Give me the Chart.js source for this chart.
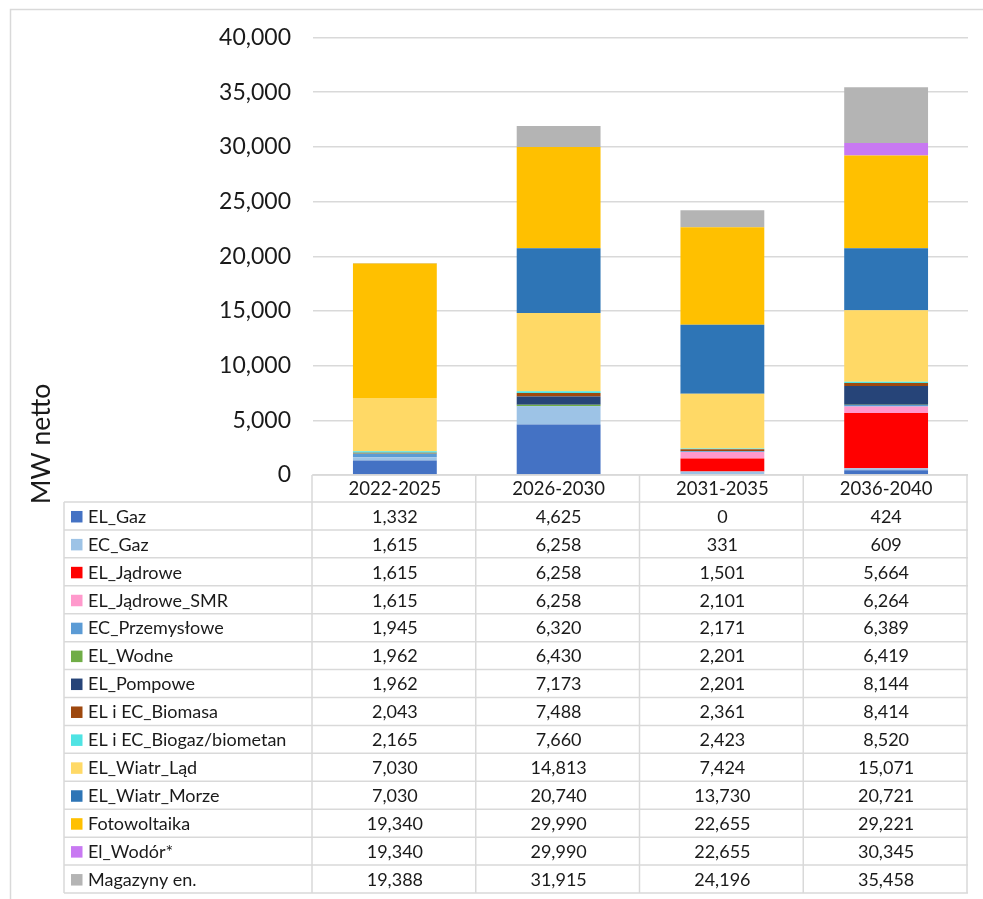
<!DOCTYPE html>
<html>
<head>
<meta charset="utf-8">
<script src="https://cdn.jsdelivr.net/npm/chart.js@4.4.0/dist/chart.umd.min.js"></script>
<style>
  html, body { margin: 0; padding: 0; background: #fff; }
  #wrap { width: 983px; height: 899px; }
</style>
</head>
<body>
<div id="wrap"><canvas id="mwChart" width="983" height="899"></canvas></div>
<script>
// periods (columns) and series names
const periods = ['2022-2025', '2026-2030', '2031-2035', '2036-2040'];
const seriesNames = ['EL_Gaz', 'EC_Gaz', 'EL_Jądrowe', 'EL_Jądrowe_SMR', 'EC_Przemysłowe', 'EL_Wodne',
    'EL_Pompowe', 'EL i EC_Biomasa', 'EL i EC_Biogaz/biometan', 'EL_Wiatr_Ląd', 'EL_Wiatr_Morze',
    'Fotowoltaika', 'El_Wodór*', 'Magazyny en.'];
const seriesColors = ['#4472C4', '#9DC3E6', '#FF0000', '#FF99CC', '#5B9BD5', '#70AD47',
    '#264478', '#9E480E', '#4FE3E3', '#FFD966', '#2E75B6', '#FFC000', '#C879F2', '#B4B4B4'];

// cumulative values, as shown in the data table (MW netto)
const vals2022_2025 = [1332, 1615, 1615, 1615, 1945, 1962, 1962, 2043, 2165, 7030, 7030, 19340, 19340, 19388];
const vals2026_2030 = [4625, 6258, 6258, 6258, 6320, 6430, 7173, 7488, 7660, 14813, 20740, 29990, 29990, 31915];
const vals2031_2035 = [0, 331, 1501, 2101, 2171, 2201, 2201, 2361, 2423, 7424, 13730, 22655, 22655, 24196];
const vals2036_2040 = [424, 609, 5664, 6264, 6389, 6419, 8144, 8414, 8520, 15071, 20721, 29221, 30345, 35458];

const yTicks = [0, 5000, 10000, 15000, 20000, 25000, 30000, 35000, 40000];

const columns = [vals2022_2025, vals2026_2030, vals2031_2035, vals2036_2040];
const fmt = v => v.toLocaleString('en-US');

// each segment floats from the previous cumulative value to its own
const datasets = seriesNames.map((name, s) => ({
    label: name,
    data: columns.map(col => [s === 0 ? 0 : col[s - 1], col[s]]),
    backgroundColor: seriesColors[s],
    borderWidth: 0,
    barPercentage: 0.512,
    categoryPercentage: 1
}));

const GRID = '#d9d9d9';
const TEXT = '#1a1a1a';

// frame, axis title and the data table underneath
const tablePlugin = {
    id: 'dataTable',
    beforeDraw(chart) {
        const ctx = chart.ctx;
        ctx.save();
        ctx.strokeStyle = GRID;
        ctx.lineWidth = 1.5;
        ctx.strokeRect(10.5, 9.5, 990, 900);
        ctx.restore();
    },
    afterDraw(chart) {
        const ctx = chart.ctx;
        const x = chart.scales.x;
        const area = chart.chartArea;
        const colW = (area.right - area.left) / periods.length;
        const headTop = area.bottom;
        const headH = 27;
        const rowH = 27.93;
        const tableLeft = 64;
        const rowsTop = headTop + headH;
        const tableBottom = rowsTop + rowH * seriesNames.length;

        ctx.save();
        ctx.strokeStyle = GRID;
        ctx.lineWidth = 1.5;
        ctx.beginPath();
        // header top
        ctx.moveTo(area.left - 1, headTop);
        ctx.lineTo(area.right, headTop);
        // row lines
        for (let r = 0; r <= seriesNames.length; r++) {
            const y = rowsTop + r * rowH;
            ctx.moveTo(tableLeft, y);
            ctx.lineTo(area.right, y);
        }
        // column lines
        for (let c = 0; c <= periods.length; c++) {
            const cx = area.left - 1 + c * colW;
            ctx.moveTo(cx, headTop);
            ctx.lineTo(cx, tableBottom);
        }
        ctx.moveTo(tableLeft, rowsTop);
        ctx.lineTo(tableLeft, tableBottom);
        ctx.stroke();

        ctx.fillStyle = TEXT;
        ctx.textBaseline = 'middle';
        ctx.textAlign = 'center';
        ctx.font = '18.5px Lato';
        periods.forEach((p, i) => {
            ctx.fillText(p, x.getPixelForValue(i), headTop + headH / 2 + 1);
        });

        ctx.font = '18px Lato';
        seriesNames.forEach((name, s) => {
            const cy = rowsTop + s * rowH + rowH / 2 + 1;
            ctx.fillStyle = seriesColors[s];
            ctx.fillRect(71, cy - 6, 11.5, 11.5);
            ctx.fillStyle = TEXT;
            ctx.textAlign = 'left';
            ctx.fillText(name, 88, cy);
            ctx.textAlign = 'center';
            columns.forEach((col, i) => {
                ctx.fillText(fmt(col[s]), x.getPixelForValue(i), cy);
            });
        });

        // y axis title
        ctx.translate(41, 444);
        ctx.rotate(-Math.PI / 2);
        ctx.textAlign = 'center';
        ctx.font = '26.5px Lato';
        ctx.fillText('MW netto', 0, 0);
        ctx.restore();
    }
};

new Chart(document.getElementById('mwChart'), {
    type: 'bar',
    data: { labels: periods, datasets: datasets },
    options: {
        responsive: false,
        animation: false,
        layout: { padding: { left: 0, top: 37.5, right: 15, bottom: 424 } },
        plugins: { legend: { display: false }, tooltip: { enabled: false } },
        scales: {
            x: { stacked: true, display: false },
            y: {
                stacked: false,
                min: 0,
                max: 40000,
                afterBuildTicks: scale => { scale.ticks = yTicks.map(v => ({ value: v })); },
                afterFit: scale => { scale.width = 313; },
                ticks: {
                    callback: v => fmt(v),
                    font: { family: 'Lato', size: 23 },
                    color: TEXT,
                    padding: 22
                },
                grid: { color: GRID, lineWidth: 1.5, drawTicks: false },
                border: { display: false }
            }
        }
    },
    plugins: [tablePlugin]
});
</script>
</body>
</html>
